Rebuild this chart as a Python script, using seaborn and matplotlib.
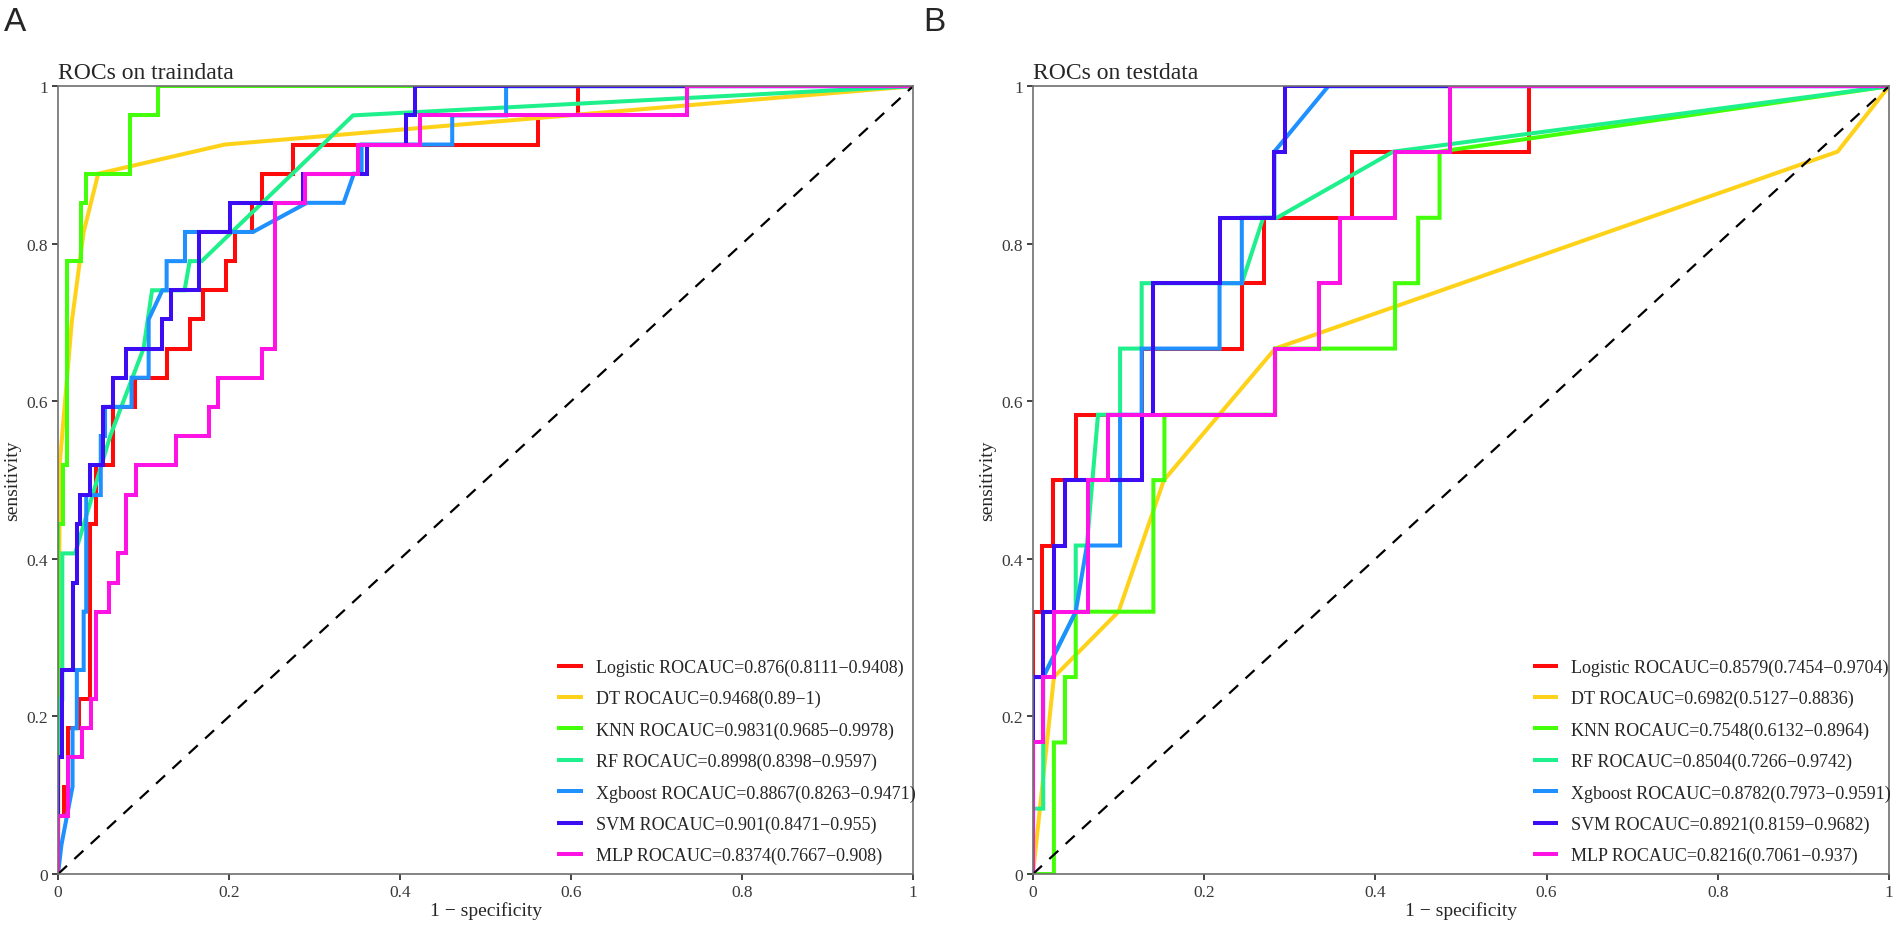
import matplotlib
matplotlib.use("Agg")
import matplotlib.pyplot as plt
import seaborn as sns
import pandas as pd

# ---------------- dados ----------------
modelos = ['Logistic', 'DT', 'KNN', 'RF', 'Xgboost', 'SVM', 'MLP']
cores = ['#FF0A0A', '#FFD21A', '#44FF0A', '#1EF08C', '#1E90FF', '#3C0CF2', '#FF12E4']

auc_treino = ['0.876(0.8111\u22120.9408)', '0.9468(0.89\u22121)', '0.9831(0.9685\u22120.9978)',
              '0.8998(0.8398\u22120.9597)', '0.8867(0.8263\u22120.9471)', '0.901(0.8471\u22120.955)',
              '0.8374(0.7667\u22120.908)']
auc_teste = ['0.8579(0.7454\u22120.9704)', '0.6982(0.5127\u22120.8836)', '0.7548(0.6132\u22120.8964)',
             '0.8504(0.7266\u22120.9742)', '0.8782(0.7973\u22120.9591)', '0.8921(0.8159\u22120.9682)',
             '0.8216(0.7061\u22120.937)']

# curvas ROC - treino
logistic_treino_fpr = [0, 0, 0.007, 0.007, 0.012, 0.012, 0.025, 0.025, 0.037, 0.037, 0.044, 0.044, 0.064, 0.064,
                       0.09, 0.09, 0.127, 0.127, 0.154, 0.154, 0.17, 0.17, 0.197, 0.197, 0.207, 0.207, 0.227,
                       0.227, 0.238, 0.238, 0.275, 0.275, 0.561, 0.561, 0.608, 0.608, 1]
logistic_treino_tpr = [0, 0.074, 0.074, 0.111, 0.111, 0.185, 0.185, 0.222, 0.222, 0.444, 0.444, 0.519, 0.519,
                       0.593, 0.593, 0.63, 0.63, 0.667, 0.667, 0.704, 0.704, 0.741, 0.741, 0.778, 0.778, 0.815,
                       0.815, 0.852, 0.852, 0.889, 0.889, 0.926, 0.926, 0.963, 0.963, 1, 1]
dt_treino_fpr = [0, 0.002, 0.016, 0.03, 0.047, 0.195, 1]
dt_treino_tpr = [0, 0.52, 0.70, 0.815, 0.889, 0.926, 1]
knn_treino_fpr = [0, 0, 0.006, 0.006, 0.011, 0.011, 0.027, 0.027, 0.033, 0.033, 0.084, 0.084, 0.117, 0.117, 1]
knn_treino_tpr = [0, 0.444, 0.444, 0.519, 0.519, 0.778, 0.778, 0.852, 0.852, 0.889, 0.889, 0.963, 0.963, 1, 1]
rf_treino_fpr = [0, 0, 0.005, 0.005, 0.02, 0.061, 0.1, 0.11, 0.123, 0.148, 0.154, 0.168, 0.345, 1]
rf_treino_tpr = [0, 0.222, 0.222, 0.407, 0.407, 0.556, 0.667, 0.741, 0.741, 0.741, 0.778, 0.778, 0.963, 1]
xgb_treino_fpr = [0, 0.004, 0.017, 0.017, 0.022, 0.022, 0.03, 0.03, 0.033, 0.033, 0.05, 0.05, 0.055, 0.055,
                  0.086, 0.086, 0.106, 0.106, 0.122, 0.127, 0.127, 0.1485, 0.1485, 0.228, 0.291, 0.334, 0.346,
                  0.355, 0.355, 0.461, 0.461, 0.524, 0.524, 1]
xgb_treino_tpr = [0, 0.037, 0.111, 0.185, 0.185, 0.259, 0.259, 0.333, 0.333, 0.481, 0.481, 0.556, 0.556, 0.593,
                  0.593, 0.63, 0.63, 0.704, 0.741, 0.741, 0.778, 0.778, 0.815, 0.815, 0.852, 0.852, 0.889,
                  0.889, 0.926, 0.926, 0.963, 0.963, 1, 1]
svm_treino_fpr = [0, 0, 0.005, 0.005, 0.017, 0.017, 0.022, 0.022, 0.026, 0.026, 0.037, 0.037, 0.053, 0.053,
                  0.064, 0.064, 0.08, 0.08, 0.122, 0.122, 0.132, 0.132, 0.165, 0.165, 0.201, 0.201, 0.287,
                  0.287, 0.361, 0.361, 0.407, 0.407, 0.4175, 0.4175, 1]
svm_treino_tpr = [0, 0.148, 0.148, 0.259, 0.259, 0.37, 0.37, 0.444, 0.444, 0.481, 0.481, 0.519, 0.519, 0.593,
                  0.593, 0.63, 0.63, 0.667, 0.667, 0.704, 0.704, 0.741, 0.741, 0.815, 0.815, 0.852, 0.852,
                  0.889, 0.889, 0.926, 0.926, 0.963, 0.963, 1, 1]
mlp_treino_fpr = [0, 0, 0.012, 0.012, 0.028, 0.028, 0.038, 0.038, 0.044, 0.044, 0.06, 0.06, 0.07, 0.07, 0.08,
                  0.08, 0.091, 0.091, 0.138, 0.138, 0.177, 0.177, 0.187, 0.187, 0.238, 0.238, 0.254, 0.254,
                  0.289, 0.289, 0.351, 0.351, 0.423, 0.423, 0.735, 0.735, 1]
mlp_treino_tpr = [0, 0.074, 0.074, 0.148, 0.148, 0.185, 0.185, 0.222, 0.222, 0.333, 0.333, 0.37, 0.37, 0.407,
                  0.407, 0.481, 0.481, 0.519, 0.519, 0.556, 0.556, 0.593, 0.593, 0.63, 0.63, 0.667, 0.667,
                  0.852, 0.852, 0.889, 0.889, 0.926, 0.926, 0.963, 0.963, 1, 1]

# curvas ROC - teste
logistic_teste_fpr = [0, 0, 0.011, 0.011, 0.023, 0.023, 0.05, 0.05, 0.127, 0.127, 0.244, 0.244, 0.27, 0.27,
                      0.373, 0.373, 0.579, 0.579, 1]
logistic_teste_tpr = [0, 0.333, 0.333, 0.417, 0.417, 0.5, 0.5, 0.583, 0.583, 0.667, 0.667, 0.75, 0.75, 0.833,
                      0.833, 0.917, 0.917, 1, 1]
dt_teste_fpr = [0, 0.0245, 0.1, 0.153, 0.283, 0.94, 1]
dt_teste_tpr = [0, 0.25, 0.333, 0.5, 0.667, 0.917, 1]
knn_teste_fpr = [0, 0.0245, 0.0245, 0.0374, 0.0374, 0.05, 0.05, 0.1407, 0.1407, 0.1536, 0.1536, 0.283, 0.283,
                 0.423, 0.423, 0.45, 0.45, 0.475, 0.475, 1]
knn_teste_tpr = [0, 0, 0.167, 0.167, 0.25, 0.25, 0.333, 0.333, 0.5, 0.5, 0.583, 0.583, 0.667, 0.667, 0.75,
                 0.75, 0.833, 0.833, 0.917, 1]
rf_teste_fpr = [0, 0, 0.012, 0.012, 0.05, 0.05, 0.063, 0.076, 0.1018, 0.1018, 0.127, 0.127, 0.244, 0.269,
                0.285, 0.421, 1]
rf_teste_tpr = [0, 0.083, 0.083, 0.25, 0.333, 0.417, 0.417, 0.583, 0.583, 0.667, 0.667, 0.75, 0.75, 0.833,
                0.833, 0.917, 1]
xgb_teste_fpr = [0, 0, 0.012, 0.05, 0.063, 0.1018, 0.1018, 0.127, 0.127, 0.218, 0.218, 0.244, 0.244, 0.282,
                 0.282, 0.345, 1]
xgb_teste_tpr = [0, 0.25, 0.25, 0.333, 0.417, 0.417, 0.583, 0.583, 0.667, 0.667, 0.75, 0.75, 0.833, 0.833,
                 0.917, 1, 1]
svm_teste_fpr = [0, 0, 0.012, 0.012, 0.0245, 0.0245, 0.0374, 0.0374, 0.127, 0.127, 0.14, 0.14, 0.218, 0.218,
                 0.282, 0.282, 0.295, 0.295, 1]
svm_teste_tpr = [0, 0.25, 0.25, 0.333, 0.333, 0.417, 0.417, 0.5, 0.5, 0.583, 0.583, 0.75, 0.75, 0.833, 0.833,
                 0.917, 0.917, 1, 1]
mlp_teste_fpr = [0, 0, 0.012, 0.012, 0.0245, 0.0245, 0.064, 0.064, 0.088, 0.088, 0.283, 0.283, 0.334, 0.334,
                 0.359, 0.359, 0.423, 0.423, 0.487, 0.487, 1]
mlp_teste_tpr = [0, 0.167, 0.167, 0.25, 0.25, 0.333, 0.333, 0.5, 0.5, 0.583, 0.583, 0.667, 0.667, 0.75, 0.75,
                 0.833, 0.833, 0.917, 0.917, 1, 1]

curvas_treino = [(logistic_treino_fpr, logistic_treino_tpr), (dt_treino_fpr, dt_treino_tpr),
                 (knn_treino_fpr, knn_treino_tpr), (rf_treino_fpr, rf_treino_tpr),
                 (xgb_treino_fpr, xgb_treino_tpr), (svm_treino_fpr, svm_treino_tpr),
                 (mlp_treino_fpr, mlp_treino_tpr)]
curvas_teste = [(logistic_teste_fpr, logistic_teste_tpr), (dt_teste_fpr, dt_teste_tpr),
                (knn_teste_fpr, knn_teste_tpr), (rf_teste_fpr, rf_teste_tpr),
                (xgb_teste_fpr, xgb_teste_tpr), (svm_teste_fpr, svm_teste_tpr),
                (mlp_teste_fpr, mlp_teste_tpr)]

# ---------------- estilo ----------------
sns.set_theme(style='ticks')
plt.rcParams['font.family'] = ['Liberation Serif', 'DejaVu Serif']
plt.rcParams['axes.unicode_minus'] = True

fig = plt.figure(figsize=(18.96, 9.29), dpi=100)
ax1 = fig.add_axes([0.0306, 0.0581, 0.451, 0.848])
ax2 = fig.add_axes([0.5448, 0.0581, 0.4515, 0.848])


def desenha_painel(ax, curvas, aucs, titulo):
    for nome, cor, (fpr, tpr), auc in zip(modelos, cores, curvas, aucs):
        df = pd.DataFrame({'fpr': fpr, 'tpr': tpr})
        sns.lineplot(data=df, x='fpr', y='tpr', sort=False, estimator=None, color=cor, lw=2.9,
                     label=nome + ' ROCAUC=' + auc, ax=ax, solid_joinstyle='miter', solid_capstyle='butt')
    # linha de referencia
    ax.plot([0, 1], [0, 1], color='black', lw=1.6, linestyle=(0, (5.5, 4.5)))

    ax.set_xlim(0, 1)
    ax.set_ylim(0, 1)
    ticks = [0, 0.2, 0.4, 0.6, 0.8, 1]
    rotulos = ['0', '0.2', '0.4', '0.6', '0.8', '1']
    ax.set_xticks(ticks)
    ax.set_xticklabels(rotulos)
    ax.set_yticks(ticks)
    ax.set_yticklabels(rotulos)
    ax.tick_params(axis='both', labelsize=12.5, labelcolor='#3a3a3a', color='#222222',
                   length=4, width=1.2, pad=3)
    for lado in ['left', 'right', 'top', 'bottom']:
        ax.spines[lado].set_visible(True)
        ax.spines[lado].set_color('#707070')
        ax.spines[lado].set_linewidth(1.2)

    ax.set_xlabel('1 \u2212 specificity', fontsize=14, labelpad=1)
    ax.set_ylabel('sensitivity', fontsize=14, labelpad=4)
    ax.set_title(titulo, loc='left', fontsize=17, pad=6)

    ax.legend(loc='lower right', bbox_to_anchor=(1.011, 0.003), borderaxespad=0, frameon=False,
              fontsize=13, handlelength=1.4, handletextpad=0.72, labelspacing=0.78)


desenha_painel(ax1, curvas_treino, auc_treino, 'ROCs on traindata')
desenha_painel(ax2, curvas_teste, auc_teste, 'ROCs on testdata')

# letras dos paineis
fig.text(0.002, 0.993, 'A', fontsize=24, va='top', ha='left', family=['Liberation Sans', 'DejaVu Sans'])
fig.text(0.487, 0.993, 'B', fontsize=24, va='top', ha='left', family=['Liberation Sans', 'DejaVu Sans'])

fig.savefig('out.png', dpi=100)
